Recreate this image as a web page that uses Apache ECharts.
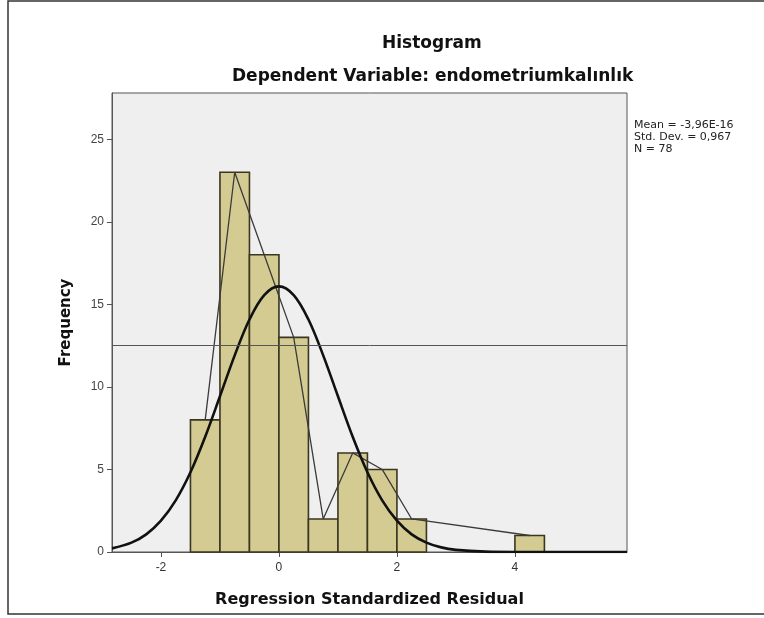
<!DOCTYPE html>
<html>
<head>
<meta charset="utf-8">
<script src="https://cdn.jsdelivr.net/npm/echarts@6/dist/echarts.min.js"></script>
<style>
    html, body { margin: 0; padding: 0; background: #fff; }
    #main { width: 764px; height: 618px; }
</style>
</head>
<body>
<div id="main"></div>
<script>
    // histogram bins (start of bin, width 0.5) and counts
    var binStarts = [-1.5, -1.0, -0.5, 0.0, 0.5, 1.0, 1.5, 2.0, 4.0];
    var binCounts = [8, 23, 18, 13, 2, 6, 5, 2, 1];
    var binWidth = 0.5;

    // normal curve
    var curveX = [-2.83, -2.5, -2.25, -2.0, -1.75, -1.5, -1.25, -1.0, -0.75, -0.5, -0.25, 0,
        0.25, 0.5, 0.75, 1.0, 1.25, 1.5, 1.75, 2.0, 2.25, 2.5, 2.75, 3.0, 3.5, 4.0, 5.0, 5.9];
    var curveY = [0.22, 0.57, 1.07, 1.9, 3.13, 4.83, 6.98, 9.43, 11.91, 14.08, 15.56, 16.09,
        15.56, 14.08, 11.91, 9.43, 6.98, 4.83, 3.13, 1.9, 1.07, 0.57, 0.28, 0.13, 0.02, 0, 0, 0];

    var refLine = 12.5;
    var xTicks = [-2, 0, 2, 4];
    var statsText = ['Mean = -3,96E-16', 'Std. Dev. = 0,967', 'N = 78'];

    var barData = binStarts.map(function (s, i) { return [s, s + binWidth, binCounts[i]]; });
    var polyData = binStarts.map(function (s, i) { return [s + binWidth / 2, binCounts[i]]; });
    var curveData = curveX.map(function (x, i) { return [x, curveY[i]]; });

    var myChart = echarts.init(document.getElementById('main'));
    var font = 'Arial, "Liberation Sans", sans-serif';
    var boldFont = '"DejaVu Sans", Arial, sans-serif';
    var option = {
        backgroundColor: '#fff',
        animation: false,
        textStyle: { fontFamily: font },
        grid: {
            left: 112, right: 137, top: 93, bottom: 66,
            show: true,
            backgroundColor: '#efefef',
            borderColor: '#555',
            borderWidth: 1
        },
        graphic: [
            {
                type: 'rect', silent: true,
                shape: { x: 8, y: 1, width: 770, height: 613 },
                style: { fill: 'none', stroke: '#333', lineWidth: 1.5 }
            },
            {
                type: 'text', left: 382, top: 35,
                style: { text: 'Histogram', font: 'bold 17px ' + boldFont, fill: '#111' }
            },
            {
                type: 'text', left: 232, top: 68,
                style: { text: 'Dependent Variable: endometriumkalınlık', font: 'bold 17px ' + boldFont, fill: '#111' }
            },
            {
                type: 'text', left: 634, top: 119,
                style: { text: statsText.join('\n'), font: '11px ' + boldFont, fill: '#222', lineHeight: 12 }
            }
        ],
        xAxis: {
            type: 'value',
            min: -2.83,
            max: 5.9,
            name: 'Regression Standardized Residual',
            nameLocation: 'middle',
            nameGap: 40,
            nameTextStyle: { fontWeight: 'bold', fontSize: 16, color: '#111', fontFamily: boldFont },
            axisLine: { show: true, onZero: false, lineStyle: { color: '#555' } },
            axisTick: { show: true, customValues: xTicks, length: 5, lineStyle: { color: '#555' } },
            axisLabel: { customValues: xTicks, color: '#333', fontSize: 12, margin: 10 },
            splitLine: { show: false }
        },
        yAxis: {
            type: 'value',
            min: 0,
            max: 27.8,
            interval: 5,
            name: 'Frequency',
            nameLocation: 'middle',
            nameGap: 38,
            nameTextStyle: { fontWeight: 'bold', fontSize: 15, color: '#111', fontFamily: boldFont },
            axisLine: { show: true, onZero: false, lineStyle: { color: '#555' } },
            axisTick: { show: true, length: 5, lineStyle: { color: '#555' } },
            axisLabel: { color: '#444', fontSize: 12, margin: 8, showMaxLabel: false },
            splitLine: { show: false }
        },
        series: [
            {
                type: 'custom',
                data: barData,
                encode: { x: [0, 1], y: 2 },
                renderItem: function (params, api) {
                    var p0 = api.coord([api.value(0), api.value(2)]);
                    var p1 = api.coord([api.value(1), 0]);
                    return {
                        type: 'rect',
                        shape: { x: p0[0], y: p0[1], width: p1[0] - p0[0], height: p1[1] - p0[1] },
                        style: { fill: '#d4cb92', stroke: '#3a3620', lineWidth: 1.6 }
                    };
                },
                z: 2
            },
            {
                type: 'line',
                data: polyData,
                symbol: 'none',
                lineStyle: { color: '#3a3a3a', width: 1.3 },
                z: 3
            },
            {
                type: 'line',
                data: curveData,
                smooth: 0.35,
                symbol: 'none',
                lineStyle: { color: '#111', width: 2.6 },
                z: 4,
                markLine: {
                    silent: true,
                    symbol: 'none',
                    label: { show: false },
                    lineStyle: { color: '#555', width: 1, type: 'solid' },
                    data: [{ yAxis: refLine }]
                }
            }
        ]
    };
    myChart.setOption(option);
</script>
</body>
</html>
